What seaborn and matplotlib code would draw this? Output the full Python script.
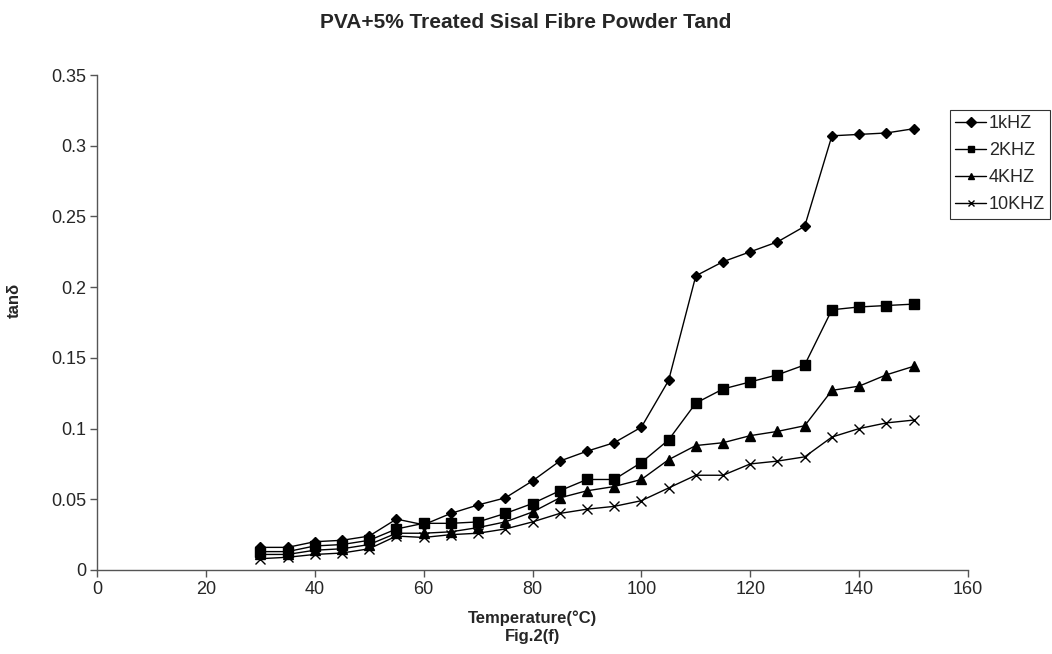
import numpy as np
import pandas as pd
import seaborn as sns
import matplotlib
matplotlib.use("Agg")
import matplotlib.pyplot as plt

# temperature points (°C)
temperature = [30, 35, 40, 45, 50, 55, 60, 65, 70, 75, 80, 85, 90, 95, 100,
               105, 110, 115, 120, 125, 130, 135, 140, 145, 150]

# tan delta
tan_1k = [0.016, 0.016, 0.020, 0.021, 0.024, 0.036, 0.032, 0.040, 0.046, 0.051,
          0.063, 0.077, 0.084, 0.090, 0.101, 0.134, 0.208, 0.218, 0.225, 0.232,
          0.243, 0.307, 0.308, 0.309, 0.312]
tan_2k = [0.013, 0.013, 0.017, 0.018, 0.021, 0.029, 0.033, 0.033, 0.034, 0.040,
          0.047, 0.056, 0.064, 0.064, 0.076, 0.092, 0.118, 0.128, 0.133, 0.138,
          0.145, 0.184, 0.186, 0.187, 0.188]
tan_4k = [0.011, 0.011, 0.014, 0.015, 0.018, 0.026, 0.026, 0.027, 0.030, 0.034,
          0.041, 0.051, 0.056, 0.059, 0.064, 0.078, 0.088, 0.090, 0.095, 0.098,
          0.102, 0.127, 0.130, 0.138, 0.144]
tan_10k = [0.008, 0.009, 0.011, 0.012, 0.015, 0.024, 0.023, 0.025, 0.026, 0.029,
           0.034, 0.040, 0.043, 0.045, 0.049, 0.058, 0.067, 0.067, 0.075, 0.077,
           0.080, 0.094, 0.100, 0.104, 0.106]

series_names = ["1kHZ", "2KHZ", "4KHZ", "10KHZ"]
series_vals = [tan_1k, tan_2k, tan_4k, tan_10k]
markers = ["D", "s", "^", "x"]
msizes = [5.5, 6.5, 6.5, 7]

df = pd.DataFrame({"temp": temperature})
for name, vals in zip(series_names, series_vals):
    df[name] = vals

sns.set_style("ticks")
plt.rcParams["font.family"] = ["Liberation Sans", "DejaVu Sans"]

fig = plt.figure(figsize=(10.52, 6.54), dpi=100)
ax = fig.add_axes([97 / 1052, 1 - 570 / 654, (968 - 97) / 1052, (570 - 75) / 654])

for name, mk, ms in zip(series_names, markers, msizes):
    sns.lineplot(data=df, x="temp", y=name, ax=ax, color="black", linewidth=1.0,
                 marker=mk, markersize=ms, markeredgecolor="black",
                 markerfacecolor="black", markeredgewidth=1.0, label=name)

ax.set_xlim(0, 160)
ax.set_ylim(0, 0.35)
ax.set_xticks(np.arange(0, 161, 20))
ax.set_yticks([0, 0.05, 0.1, 0.15, 0.2, 0.25, 0.3, 0.35])
ax.set_yticklabels(["0", "0.05", "0.1", "0.15", "0.2", "0.25", "0.3", "0.35"])
ax.tick_params(labelsize=13, length=5, width=1, color="#555555", pad=3)
for s in ["top", "right"]:
    ax.spines[s].set_visible(False)
for s in ["left", "bottom"]:
    ax.spines[s].set_color("#555555")
    ax.spines[s].set_linewidth(1.0)

ax.set_xlabel("Temperature(°C)\nFig.2(f)", fontsize=12, fontweight="bold",
              linespacing=1.3)
ax.xaxis.set_label_coords(0.5, -(610 - 570) / 495)
ax.set_ylabel("tanδ", fontsize=12, fontweight="bold")
ax.yaxis.set_label_coords(-(97 - 22) / 871, (570 - 300) / 495)

fig.text(0.5, 1 - 22 / 654, "PVA+5% Treated Sisal Fibre Powder Tand",
         ha="center", va="center", fontsize=15, fontweight="bold")

leg = ax.legend(loc="upper left", bbox_to_anchor=(950 / 1052, 1 - 110 / 654),
                bbox_transform=fig.transFigure, frameon=True, fancybox=False,
                fontsize=13, handlelength=1.7, handletextpad=0.15,
                labelspacing=0.55, borderpad=0.3, borderaxespad=0)
leg.get_frame().set_edgecolor("black")
leg.get_frame().set_linewidth(0.8)
for h in leg.legend_handles:
    h.set_markersize(5)

plt.savefig("out.png", dpi=100)
